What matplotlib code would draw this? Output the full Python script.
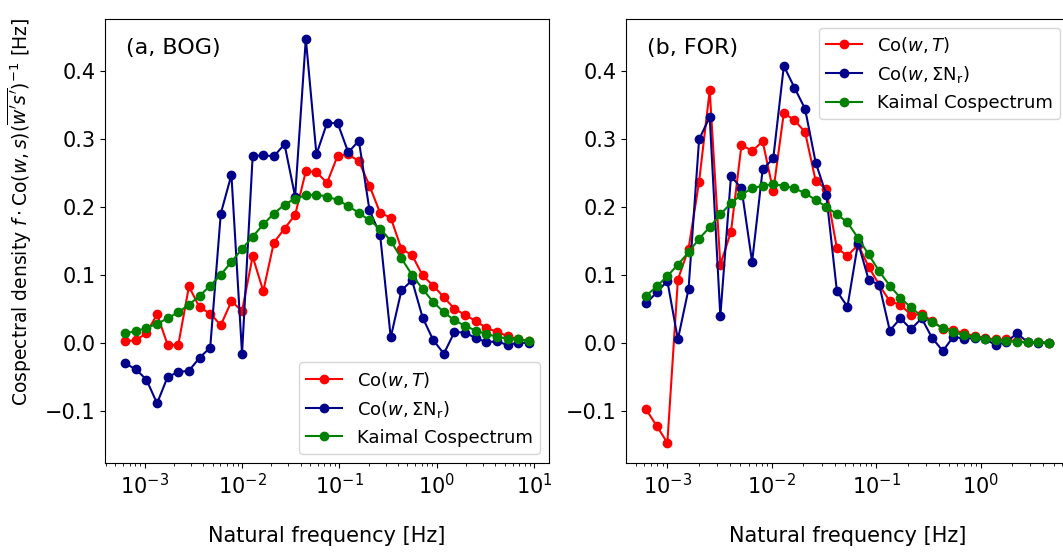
import matplotlib
matplotlib.use("Agg")
import matplotlib.pyplot as plt

# natural frequency [Hz] for each site
freq_bog = [6.31e-4, 8.11e-4, 1.042e-3, 1.340e-3, 1.722e-3, 2.213e-3, 2.85e-3, 3.66e-3,
            4.71e-3, 6.05e-3, 7.78e-3, 1.00e-2, 1.285e-2, 1.652e-2, 2.12e-2, 2.73e-2,
            3.51e-2, 4.52e-2, 5.81e-2, 7.46e-2, 9.59e-2, 0.1233, 0.1585, 0.2037, 0.2618,
            0.3367, 0.4335, 0.557, 0.716, 0.920, 1.183, 1.521, 1.954, 2.512, 3.228,
            4.15, 5.33, 6.86, 8.83]
freq_for = [6.25e-4, 7.89e-4, 9.98e-4, 1.259e-3, 1.592e-3, 2.01e-3, 2.54e-3, 3.21e-3,
            4.06e-3, 5.12e-3, 6.47e-3, 8.17e-3, 1.032e-2, 1.303e-2, 1.648e-2, 2.08e-2,
            2.63e-2, 3.32e-2, 4.20e-2, 5.30e-2, 6.70e-2, 8.45e-2, 0.1069, 0.1349, 0.1706,
            0.2153, 0.2723, 0.3436, 0.4345, 0.5483, 0.6934, 0.875, 1.107, 1.397, 1.766,
            2.228, 2.818, 3.556, 4.50]

# (a) BOG
co_T_bog = [0.002, 0.004, 0.014, 0.042, -0.003, -0.003, 0.083, 0.052, 0.043, 0.026,
            0.061, 0.047, 0.127, 0.076, 0.147, 0.168, 0.188, 0.252, 0.251, 0.235,
            0.275, 0.277, 0.267, 0.231, 0.191, 0.184, 0.138, 0.129, 0.099, 0.084,
            0.067, 0.050, 0.041, 0.032, 0.022, 0.016, 0.010, 0.005, 0.003]
co_N_bog = [-0.030, -0.039, -0.054, -0.089, -0.050, -0.043, -0.041, -0.022, -0.007, 0.190,
            0.247, -0.016, 0.274, 0.276, 0.274, 0.292, 0.215, 0.447, 0.277, 0.323,
            0.323, 0.280, 0.297, 0.195, 0.159, 0.008, 0.077, 0.092, 0.037, 0.004,
            -0.016, 0.016, 0.015, 0.007, 0.001, 0.002, -0.003, 0.000, 0.000]
kaimal_bog = [0.014, 0.017, 0.022, 0.028, 0.036, 0.045, 0.056, 0.069, 0.084, 0.100,
              0.119, 0.138, 0.156, 0.174, 0.190, 0.203, 0.212, 0.217, 0.218, 0.215,
              0.210, 0.201, 0.191, 0.180, 0.168, 0.150, 0.124, 0.100, 0.079, 0.060,
              0.045, 0.033, 0.025, 0.018, 0.013, 0.009, 0.006, 0.005, 0.003]

# (b) FOR
co_T_for = [-0.098, -0.122, -0.147, 0.093, 0.138, 0.237, 0.371, 0.115, 0.163, 0.291,
            0.282, 0.296, 0.223, 0.338, 0.327, 0.310, 0.238, 0.226, 0.139, 0.128,
            0.144, 0.112, 0.085, 0.061, 0.056, 0.041, 0.042, 0.032, 0.021, 0.019,
            0.014, 0.010, 0.007, 0.005, 0.005, 0.002, 0.001, 0.001, 0.000]
co_N_for = [0.058, 0.074, 0.091, 0.005, 0.079, 0.299, 0.332, 0.039, 0.245, 0.227,
            0.119, 0.255, 0.271, 0.407, 0.375, 0.344, 0.265, 0.218, 0.076, 0.053,
            0.147, 0.093, 0.085, 0.018, 0.036, 0.020, 0.036, 0.007, -0.012, 0.009,
            0.006, 0.007, 0.005, -0.003, 0.001, 0.014, 0.001, 0.000, 0.000]
kaimal_for = [0.069, 0.083, 0.098, 0.115, 0.133, 0.153, 0.170, 0.189, 0.205, 0.218,
              0.227, 0.231, 0.233, 0.231, 0.227, 0.220, 0.210, 0.200, 0.189, 0.177,
              0.154, 0.130, 0.105, 0.084, 0.066, 0.052, 0.039, 0.030, 0.022, 0.016,
              0.011, 0.008, 0.005, 0.004, 0.003, 0.001, 0.001, 0.001, 0.000]

fig = plt.figure(figsize=(10.63, 5.53), dpi=100)
ax1 = fig.add_axes([0.0988, 0.1627, 0.4177, 0.8038])
ax2 = fig.add_axes([0.5889, 0.1627, 0.4167, 0.8038], sharey=ax1)

panels = [
    (ax1, freq_bog, co_T_bog, co_N_bog, kaimal_bog, "(a, BOG)", "lower right"),
    (ax2, freq_for, co_T_for, co_N_for, kaimal_for, "(b, FOR)", "upper right"),
]

for ax, f, cT, cN, kai, tag, loc in panels:
    ax.plot(f, cT, "o-", color="red", ms=6, lw=1.5, label=r"Co$(w,T)$")
    ax.plot(f, cN, "o-", color="darkblue", ms=6, lw=1.5, label=r"Co$(w,\Sigma\mathrm{N_r})$")
    ax.plot(f, kai, "o-", color="green", ms=6, lw=1.5, label="Kaimal Cospectrum")
    ax.set_xscale("log")
    ax.tick_params(labelsize=15)
    ax.tick_params(axis="y", labelleft=True)
    ax.set_xlabel("Natural frequency [Hz]", fontsize=15, labelpad=20)
    ax.text(0.047, 0.934, tag, transform=ax.transAxes, fontsize=16, va="center")
    ax.legend(loc=loc, fontsize=13)

ax1.set_ylabel(r"Cospectral density $f\cdot\mathrm{Co}(w,s)(\overline{w's'})^{-1}$ [Hz]",
               fontsize=13.5)
ax1.yaxis.set_label_coords(-0.16, 0.565)

fig.savefig("out.png", dpi=100)
